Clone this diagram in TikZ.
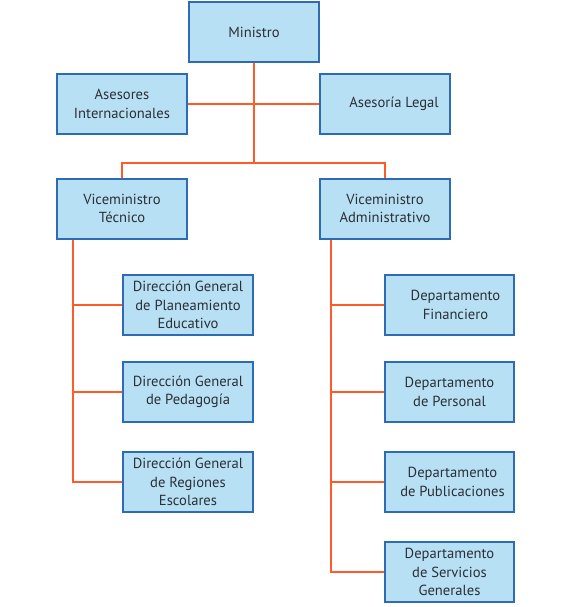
\documentclass[tikz,border=0pt]{standalone}
\usepackage{fontspec}
\setmainfont{PT Sans}
\definecolor{boxfill}{HTML}{B8E0F4}
\definecolor{boxline}{HTML}{2E6BB5}
\definecolor{conn}{HTML}{FF5A2A}
\definecolor{txt}{HTML}{2B2F36}
\begin{document}
\begin{tikzpicture}[x=1pt,y=-1pt,
  orgbox/.style={draw=boxline, fill=boxfill, line width=2pt, minimum width=130pt, minimum height=60pt,
    inner sep=0pt, align=center, text=txt, font=\fontsize{14.6}{18.5}\selectfont},
  deptbox/.style={orgbox, minimum width=129pt},
  link/.style={draw=conn, line width=1.8pt}]
\useasboundingbox (0,0) rectangle (579,607);
\coordinate (lt) at (73,0);
\coordinate (rt) at (331,0);
\coordinate (mid) at (0,163);
\node[orgbox] (min) at (254,32) {Ministro};
\node[orgbox] (ase) at (122,104) {Asesores\\Internacionales};
\node[orgbox] (leg) at (385,104) {\hspace*{18pt}Asesoría Legal};
\node[orgbox] (vt) at (122,208.5) {Viceministro\\Técnico};
\node[orgbox] (va) at (385,208.5) {Viceministro\\Administrativo};
\node[orgbox] (dg1) at (188,305) {Dirección General\\de Planeamiento\\Educativo};
\node[orgbox] (dg2) at (188,392) {Dirección General\\de Pedagogía};
\node[orgbox] (dg3) at (188,482) {Dirección General\\de Regiones\\Escolares};
\node[deptbox] (d1) at (449.5,305) {\hspace*{12pt}Departamento\\\hspace*{12pt}Financiero};
\node[deptbox] (d2) at (449.5,392) {Departamento\\de Personal};
\node[deptbox] (d3) at (449.5,482) {\hspace*{6pt}Departamento\\\hspace*{6pt}de Publicaciones};
\node[deptbox] (d4) at (449.5,572) {Departamento\\de Servicios\\Generales};
\path[link] (min.south) -- (min.south |- mid);
\path[link] (ase.east) -- (leg.west);
\path[link] (vt.north) |- (va.north |- mid) -- (va.north);
\path[link] (vt.south -| lt) |- (dg3.west);
\path[link] (dg1.west) -- (dg1.west -| lt);
\path[link] (dg2.west) -- (dg2.west -| lt);
\path[link] (va.south -| rt) |- (d4.west);
\path[link] (d1.west) -- (d1.west -| rt);
\path[link] (d2.west) -- (d2.west -| rt);
\path[link] (d3.west) -- (d3.west -| rt);
\end{tikzpicture}
\end{document}
